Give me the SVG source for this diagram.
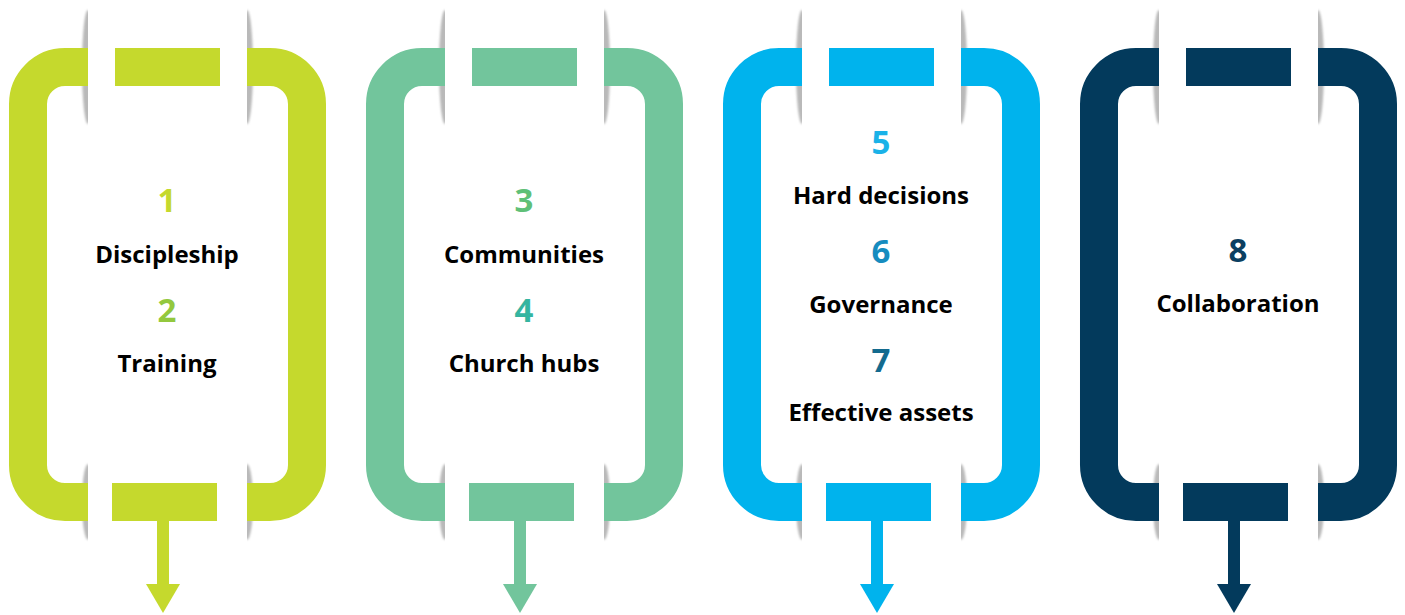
<svg xmlns="http://www.w3.org/2000/svg" width="1405" height="615" viewBox="0 0 1405 615">
  <style>
    .ring { fill: none; stroke-width: 38; }
    .gap { fill: #ffffff; }
    .shadow { fill: #b9b9b9; filter: url(#soft); }
    .num { font-family: "Open Sans", "Liberation Sans", sans-serif; font-weight: 700; font-size: 33px; text-anchor: middle; }
    .lbl { font-family: "Open Sans", "Liberation Sans", sans-serif; font-weight: 700; font-size: 24px; text-anchor: middle; fill: #000000; }
    .shaft { stroke-width: 12; fill: none; }
  </style>
  <defs>
    <filter id="soft" x="-50%" y="-10%" width="200%" height="120%">
      <feGaussianBlur stdDeviation="0.9"/>
    </filter>
    <marker id="ah1" markerUnits="userSpaceOnUse" viewBox="0 0 29 34" markerWidth="29" markerHeight="34" refX="0" refY="17" orient="auto">
      <path d="M0,0 L29,17 L0,34 Z" fill="#c5d92d"/>
    </marker>
    <marker id="ah2" markerUnits="userSpaceOnUse" viewBox="0 0 29 34" markerWidth="29" markerHeight="34" refX="0" refY="17" orient="auto">
      <path d="M0,0 L29,17 L0,34 Z" fill="#72c59c"/>
    </marker>
    <marker id="ah3" markerUnits="userSpaceOnUse" viewBox="0 0 29 34" markerWidth="29" markerHeight="34" refX="0" refY="17" orient="auto">
      <path d="M0,0 L29,17 L0,34 Z" fill="#00b3ed"/>
    </marker>
    <marker id="ah4" markerUnits="userSpaceOnUse" viewBox="0 0 29 34" markerWidth="29" markerHeight="34" refX="0" refY="17" orient="auto">
      <path d="M0,0 L29,17 L0,34 Z" fill="#033a5c"/>
    </marker>
    <g id="frameBase">
      <ellipse class="shadow" cx="88" cy="67" rx="6" ry="57"/>
      <ellipse class="shadow" cx="247" cy="67" rx="6" ry="57"/>
      <ellipse class="shadow" cx="88" cy="502" rx="6" ry="38"/>
      <ellipse class="shadow" cx="247" cy="502" rx="6" ry="38"/>
    </g>
  </defs>

  <!-- Step 1 -->
  <g id="step1">
    <use href="#frameBase"/>
    <rect class="ring" x="28" y="67" width="279" height="435" rx="37" stroke="#c5d92d"/>
    <rect class="gap" x="88" y="5" width="159" height="122"/>
    <rect class="gap" x="88" y="462" width="159" height="82"/>
    <rect x="115" y="48" width="105" height="38" fill="#c5d92d"/>
    <rect x="112" y="483" width="105" height="38" fill="#c5d92d"/>
    <text class="num" x="167" y="212" fill="#c5d92d">1</text>
    <text class="lbl" x="167" y="263">Discipleship</text>
    <text class="num" x="167" y="322" fill="#93c83e">2</text>
    <text class="lbl" x="167" y="372">Training</text>
  </g>

  <!-- Step 2 -->
  <g id="step2" transform="translate(357,0)">
    <use href="#frameBase"/>
    <rect class="ring" x="28" y="67" width="279" height="435" rx="37" stroke="#72c59c"/>
    <rect class="gap" x="88" y="5" width="159" height="122"/>
    <rect class="gap" x="88" y="462" width="159" height="82"/>
    <rect x="115" y="48" width="105" height="38" fill="#72c59c"/>
    <rect x="112" y="483" width="105" height="38" fill="#72c59c"/>
    <text class="num" x="167" y="212" fill="#5fc077">3</text>
    <text class="lbl" x="167" y="263">Communities</text>
    <text class="num" x="167" y="322" fill="#35b5a0">4</text>
    <text class="lbl" x="167" y="372">Church hubs</text>
  </g>

  <!-- Step 3 -->
  <g id="step3" transform="translate(714,0)">
    <use href="#frameBase"/>
    <rect class="ring" x="28" y="67" width="279" height="435" rx="37" stroke="#00b3ed"/>
    <rect class="gap" x="88" y="5" width="159" height="122"/>
    <rect class="gap" x="88" y="462" width="159" height="82"/>
    <rect x="115" y="48" width="105" height="38" fill="#00b3ed"/>
    <rect x="112" y="483" width="105" height="38" fill="#00b3ed"/>
    <text class="num" x="167" y="154" fill="#1ab2e8">5</text>
    <text class="lbl" x="167" y="204">Hard decisions</text>
    <text class="num" x="167" y="263" fill="#168cbf">6</text>
    <text class="lbl" x="167" y="313">Governance</text>
    <text class="num" x="167" y="372" fill="#136a8e">7</text>
    <text class="lbl" x="167" y="421">Effective assets</text>
  </g>

  <!-- Step 4 -->
  <g id="step4" transform="translate(1071,0)">
    <use href="#frameBase"/>
    <rect class="ring" x="28" y="67" width="279" height="435" rx="37" stroke="#033a5c"/>
    <rect class="gap" x="88" y="5" width="159" height="122"/>
    <rect class="gap" x="88" y="462" width="159" height="82"/>
    <rect x="115" y="48" width="105" height="38" fill="#033a5c"/>
    <rect x="112" y="483" width="105" height="38" fill="#033a5c"/>
    <text class="num" x="167" y="262" fill="#0b3f61">8</text>
    <text class="lbl" x="167" y="312">Collaboration</text>
  </g>

  <!-- Connectors -->
  <g id="connectors">
    <line class="shaft" x1="163" y1="521" x2="163" y2="584" stroke="#c5d92d" marker-end="url(#ah1)"/>
    <line class="shaft" x1="520" y1="521" x2="520" y2="584" stroke="#72c59c" marker-end="url(#ah2)"/>
    <line class="shaft" x1="877" y1="521" x2="877" y2="584" stroke="#00b3ed" marker-end="url(#ah3)"/>
    <line class="shaft" x1="1234" y1="521" x2="1234" y2="584" stroke="#033a5c" marker-end="url(#ah4)"/>
  </g>
</svg>
